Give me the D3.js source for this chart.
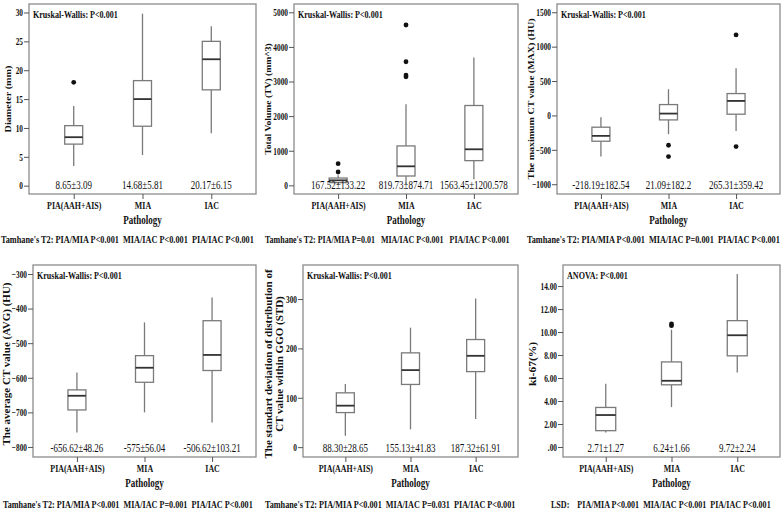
<!DOCTYPE html>
<html><head><meta charset="utf-8">
<script src="https://cdn.jsdelivr.net/npm/d3@7"></script>
<style>body{margin:0;background:#fff}svg{display:block}</style></head>
<body><svg id="c" width="784" height="513"></svg>
<script>
const categories = ["PIA(AAH+AIS)", "MIA", "IAC"];

// each box: [lower whisker, Q1, median, Q3, upper whisker]
const diameterBoxes = [[3.4, 7.2, 8.4, 10.4, 13.8], [5.3, 10.3, 15.0, 18.2, 29.8], [9.1, 16.6, 21.9, 25.0, 27.6]];
const diameterOutliers = [[17.9], [], []];
const diameterLabels = ["8.65±3.09", "14.68±5.81", "20.17±6.15"];
const diameterTicks = [0, 5, 10, 15, 20, 25, 30];

const volumeBoxes = [[20, 78, 145, 211, 290], [40, 270, 550, 1139, 2345], [174, 714, 1042, 2307, 3697]];
const volumeOutliers = [[385, 627], [3137, 3185, 3571, 4633], []];
const volumeLabels = ["167.52±133.22", "819.73±874.71", "1563.45±1200.578"];
const volumeTicks = [0, 1000, 2000, 3000, 4000, 5000];

const maxBoxes = [[-598, -375, -297, -171, -26], [-273, -65, 27, 158, 381], [-225, 18, 211, 318, 686]];
const maxOutliers = [[], [-433, -598], [1170, -453]];
const maxLabels = ["-218.19±182.54", "21.09±182.2", "265.31±359.42"];
const maxTicks = [-1000, -500, 0, 500, 1000, 1500];

const avgBoxes = [[-758, -693, -652, -635, -585], [-700, -613, -571, -536, -440], [-729, -579, -534, -435, -368]];
const avgOutliers = [[], [], []];
const avgLabels = ["-656.62±48.26", "-575±56.04", "-506.62±103.21"];
const avgTicks = [-800, -700, -600, -500, -400, -300];

const stdBoxes = [[23, 70, 84, 110, 128], [36, 127, 156, 191, 242], [57, 153, 185, 218, 301]];
const stdOutliers = [[], [], []];
const stdLabels = ["88.30±28.65", "155.13±41.83", "187.32±61.91"];
const stdTicks = [0, 100, 200, 300];

const ki67Boxes = [[1.27, 1.42, 2.78, 3.44, 5.5], [3.47, 5.41, 5.76, 7.4, 10.2], [6.48, 7.93, 9.72, 10.99, 15.04]];
const ki67Outliers = [[], [10.55, 10.7], []];
const ki67Labels = ["2.71±1.27", "6.24±1.66", "9.72±2.24"];
const ki67Ticks = [0, 2, 4, 6, 8, 10, 12, 14];

const testTitles = ["Kruskal-Wallis: P<0.001", "Kruskal-Wallis: P<0.001", "Kruskal-Wallis: P<0.001",
                    "Kruskal-Wallis: P<0.001", "Kruskal-Wallis: P<0.001", "ANOVA: P<0.001"];
const posthocLines = [
  "Tamhane's T2: PIA/MIA P<0.001  MIA/IAC P<0.001  PIA/IAC P<0.001",
  "Tamhane's T2: PIA/MIA P=0.01   MIA/IAC P<0.001   PIA/IAC P<0.001",
  "Tamhane's T2: PIA/MIA P<0.001  MIA/IAC P=0.001  PIA/IAC P<0.001",
  "Tamhane's T2: PIA/MIA P<0.001  MIA/IAC P=0.001  PIA/IAC P<0.001",
  "Tamhane's T2: PIA/MIA P<0.001  MIA/IAC P=0.031  PIA/IAC P<0.001",
  "LSD:    PIA/MIA P<0.001  MIA/IAC P<0.001  PIA/IAC P<0.001"
];
const yTitles = [["Diameter (mm)"], ["Total Volume (TV) (mm^3)"], ["The maximum CT value (MAX) (HU)"],
                 ["The average CT value (AVG) (HU)"],
                 ["The standart deviation of distribution of", "CT value within GGO (STD)"], ["ki-67(%)"]];
const xTitle = "Pathology";

const SX = 0.72;
const FONT = "'Liberation Serif','Times New Roman',serif";
const svg = d3.select("#c").style("font-family", FONT);

// layout (pixel geometry of each panel)
const panels = [
  {boxes: diameterBoxes, out: diameterOutliers, labels: diameterLabels, ticks: diameterTicks, fmt: d3.format("d"),
   l: 29, r: 256, t: 4, b: 194, dom: [-1.44, 31.47], bw: 18, ytx: [8], yfs: 10.2, ptx: [1, 254]},
  {boxes: volumeBoxes, out: volumeOutliers, labels: volumeLabels, ticks: volumeTicks, fmt: d3.format("d"),
   l: 294, r: 518, t: 4, b: 194, dom: [-250, 5240], bw: 18, ytx: [268], yfs: 9.6, ptx: [265, 510]},
  {boxes: maxBoxes, out: maxOutliers, labels: maxLabels, ticks: maxTicks, fmt: d3.format("d"),
   l: 557, r: 780, t: 4, b: 194, dom: [-1142, 1620], bw: 18, ytx: [531], yfs: 10, ptx: [527, 780]},
  {boxes: avgBoxes, out: avgOutliers, labels: avgLabels, ticks: avgTicks, fmt: d3.format("d"),
   l: 33, r: 256, t: 265, b: 457, dom: [-829, -274], bw: 18, ytx: [7], yfs: 11, ptx: [3, 253]},
  {boxes: stdBoxes, out: stdOutliers, labels: stdLabels, ticks: stdTicks, fmt: d3.format("d"),
   l: 303, r: 518, t: 265, b: 457, dom: [-20, 369], bw: 18, ytx: [269, 280], yfs: 11, ptx: [265, 516]},
  {boxes: ki67Boxes, out: ki67Outliers, labels: ki67Labels, ticks: ki67Ticks,
   fmt: d => d === 0 ? ".00" : d.toFixed(2),
   l: 563, r: 780, t: 265, b: 457, dom: [-0.87, 15.83], bw: 20, ytx: [532], yfs: 11.5, ptx: [551, 771]}
];

panels.forEach((p, pi) => {
  const g = svg.append("g");
  const x = d3.scalePoint().domain(categories).range([p.l, p.r]).padding(0.65);
  const y = d3.scaleLinear().domain(p.dom).range([p.b, p.t]);

  g.append("rect").attr("x", p.l).attr("y", p.t).attr("width", p.r - p.l).attr("height", p.b - p.t)
    .attr("fill", "none").attr("stroke", "#8c8c8c").attr("stroke-width", 1.3);

  // y axis
  const yg = g.append("g").attr("transform", `translate(${p.l},0)`)
    .call(d3.axisLeft(y).tickValues(p.ticks).tickSize(5).tickFormat(p.fmt));
  yg.select(".domain").remove();
  yg.selectAll("line").attr("stroke", "#555");
  yg.selectAll("text").attr("x", 0).attr("transform", `translate(-6,0) scale(${SX},1)`)
    .attr("font-family", FONT).attr("font-weight", "bold").attr("font-size", 10.2).attr("fill", "#111");

  // x axis
  const xg = g.append("g").attr("transform", `translate(0,${p.b})`)
    .call(d3.axisBottom(x).tickSize(5));
  xg.select(".domain").remove();
  xg.selectAll("line").attr("stroke", "#555");
  xg.selectAll("text").attr("y", 7).attr("transform", `scale(${SX},1)`)
    .attr("font-family", FONT).attr("font-weight", "bold").attr("font-size", 11).attr("fill", "#111");

  // x title
  g.append("text").attr("transform", `translate(${(p.l + p.r) / 2},${p.b + 30}) scale(${SX},1)`)
    .attr("text-anchor", "middle").attr("font-weight", "bold").attr("font-size", 12.5).attr("fill", "#111").text(xTitle);

  // y title
  const lines = yTitles[pi];
  lines.forEach((s, li) => {
    g.append("text")
      .attr("transform", `translate(${p.ytx[li]},${(p.t + p.b) / 2 + (p.t > 100 ? 3 : 0)}) rotate(-90) scale(1,0.88)`)
      .attr("text-anchor", "middle").attr("dy", "0.35em").attr("font-weight", "bold")
      .attr("font-size", p.yfs).attr("fill", "#111").text(s);
  });

  // test title
  g.append("text").attr("transform", `translate(${p.l + 4},${p.t + 14}) scale(${SX},1)`)
    .attr("font-weight", "bold").attr("font-size", 11.2).attr("fill", "#111").text(testTitles[pi]);

  // boxes
  categories.forEach((c, i) => {
    const bx = p.boxes[i], cx = x(c), w = p.bw;
    const bg = g.append("g");
    bg.append("line").attr("x1", cx).attr("x2", cx).attr("y1", y(bx[0])).attr("y2", y(bx[1]))
      .attr("stroke", "#7a7a7a").attr("stroke-width", 1.3);
    bg.append("line").attr("x1", cx).attr("x2", cx).attr("y1", y(bx[3])).attr("y2", y(bx[4]))
      .attr("stroke", "#7a7a7a").attr("stroke-width", 1.3);
    bg.append("rect").attr("x", cx - w / 2).attr("width", w).attr("y", y(bx[3])).attr("height", y(bx[1]) - y(bx[3]))
      .attr("fill", "#fff").attr("stroke", "#7a7a7a").attr("stroke-width", 1.3);
    bg.append("line").attr("x1", cx - w / 2).attr("x2", cx + w / 2).attr("y1", y(bx[2])).attr("y2", y(bx[2]))
      .attr("stroke", "#333").attr("stroke-width", 1.8);
    p.out[i].forEach(v => {
      bg.append("circle").attr("cx", cx).attr("cy", y(v)).attr("r", 2.4).attr("fill", "#111");
    });
    g.append("text").attr("transform", `translate(${cx},${p.b - 5}) scale(${SX},1)`)
      .attr("text-anchor", "middle").attr("font-size", 12.5).attr("fill", "#111").text(p.labels[i]);
  });

  // post-hoc line, horizontally scaled to the width it occupies in the figure
  const rowBase = p.t < 100 ? 243 : 508;
  const pt = g.append("text").attr("x", 0).attr("y", 0)
    .attr("font-weight", "bold").attr("font-size", 11).attr("fill", "#111")
    .attr("xml:space", "preserve").style("white-space", "pre").text(posthocLines[pi]);
  const natural = pt.node().getComputedTextLength();
  const k = (p.ptx[1] - p.ptx[0]) / natural;
  pt.attr("transform", `translate(${p.ptx[0]},${rowBase}) scale(${k},1)`);
});
</script>
</body></html>
